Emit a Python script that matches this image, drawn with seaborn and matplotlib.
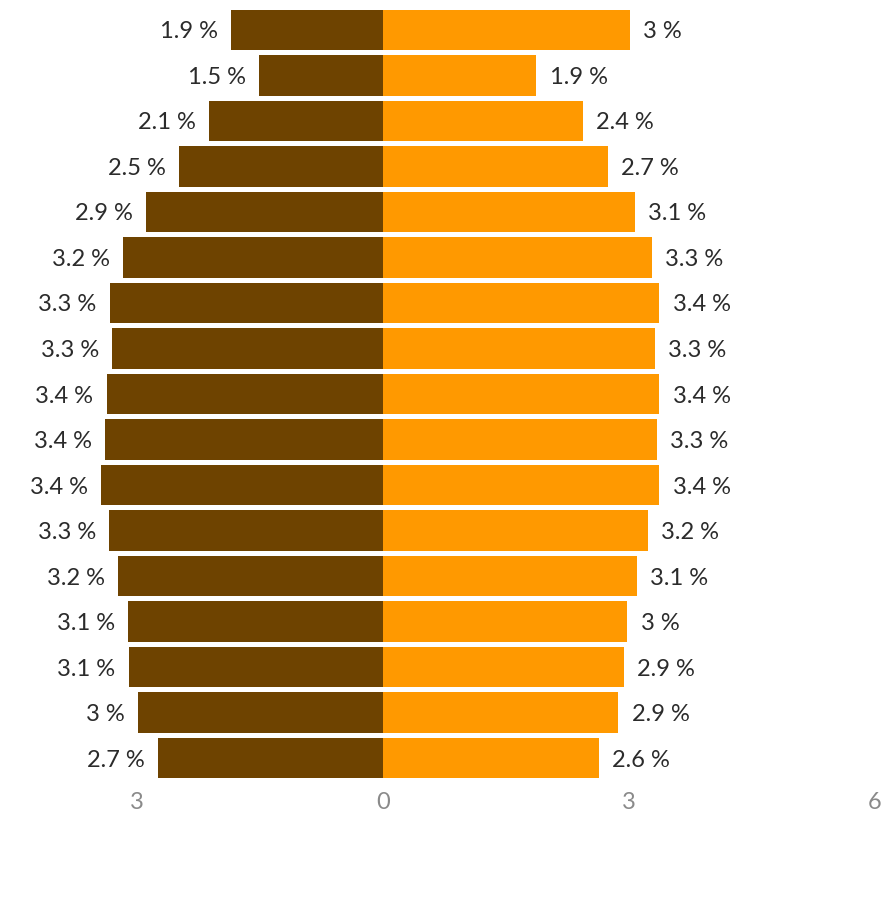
import matplotlib
matplotlib.use("Agg")
import matplotlib.pyplot as plt
from matplotlib.ticker import FixedLocator, FixedFormatter
import pandas as pd
import seaborn as sns

# Share of population by age group (%), oldest group at the top
age_groups = ["80+", "75–79", "70–74", "65–69", "60–64", "55–59", "50–54",
              "45–49", "40–44", "35–39", "30–34", "25–29", "20–24",
              "15–19", "10–14", "5–9", "0–4"]
male = [1.85, 1.51, 2.12, 2.49, 2.89, 3.17, 3.33, 3.30, 3.37, 3.39, 3.44,
        3.34, 3.23, 3.11, 3.10, 2.99, 2.74]
female = [3.01, 1.87, 2.44, 2.74, 3.07, 3.28, 3.37, 3.32, 3.37, 3.34, 3.37,
          3.23, 3.10, 2.98, 2.94, 2.87, 2.63]
x_ticks = [-3, 0, 3, 6]
x_tick_labels = ["3", "0", "3", "6"]

MALE_COLOR = "#6e4300"
FEMALE_COLOR = "#ff9900"
TEXT_COLOR = "#2b2b2b"
TICK_COLOR = "#8a8a8a"

sns.set_style("white")
plt.rcParams["font.family"] = ["Lato", "DejaVu Sans"]

df = pd.DataFrame({
    "age": age_groups * 2,
    "sex": ["Male"] * len(age_groups) + ["Female"] * len(age_groups),
    "share": [-v for v in male] + female,
})

fig = plt.figure(figsize=(8.96, 9.0), dpi=100)
ax = fig.add_axes([0.0, 1 - 782 / 900, 1.0, 782 / 900])

sns.barplot(data=df, y="age", x="share", hue="sex", order=age_groups,
            palette={"Male": MALE_COLOR, "Female": FEMALE_COLOR},
            orient="h", dodge=False, width=0.88, linewidth=0,
            saturation=1, legend=False, ax=ax)

ax.set_xlim(-383 / 82, (896 - 383) / 82)
ax.set_ylim(16.527, -0.659)


def fmt(v):
    s = f"{v:.1f}"
    if s.endswith(".0"):
        s = s[:-2]
    return f"{s} %"


for i, (m, f) in enumerate(zip(male, female)):
    ax.annotate(fmt(m), xy=(-m, i), xytext=(-9.5, 0), textcoords="offset points",
                ha="right", va="center_baseline", fontsize=17, color=TEXT_COLOR)
    ax.annotate(fmt(f), xy=(f, i), xytext=(9.5, 0), textcoords="offset points",
                ha="left", va="center_baseline", fontsize=17, color=TEXT_COLOR)

ax.xaxis.set_major_locator(FixedLocator(x_ticks))
ax.xaxis.set_major_formatter(FixedFormatter(x_tick_labels))
ax.tick_params(axis="x", length=0, pad=7, labelsize=17, labelcolor=TICK_COLOR)
ax.set_yticks([])
ax.set_xlabel("")
ax.set_ylabel("")
for spine in ax.spines.values():
    spine.set_visible(False)

fig.savefig("out.png", dpi=100)
